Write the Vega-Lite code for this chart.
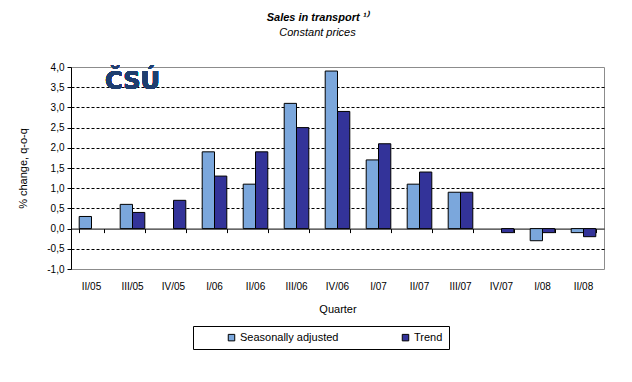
{
  "$schema": "https://vega.github.io/schema/vega-lite/v6.json",
  "width": 533,
  "height": 202,
  "autosize": {"type": "none"},
  "padding": {"left": 71, "top": 67, "right": 28, "bottom": 113},
  "background": "white",
  "config": {
    "view": {"stroke": "#8c8c8c", "strokeWidth": 1},
    "axisY": {
      "labelFlush": false,
      "labelOverlap": false,
      "domainColor": "black",
      "tickColor": "black",
      "tickSize": 4,
      "labelFont": "Liberation Sans",
      "labelFontSize": 10,
      "labelColor": "black",
      "labelPadding": 3,
      "titleFont": "Liberation Sans",
      "titleFontSize": 11,
      "titleFontWeight": "normal",
      "titleColor": "black",
      "titlePadding": 18,
      "gridColor": "black",
      "gridDash": [3, 2]
    }
  },
  "title": {
    "text": "Sales in transport ¹⁾",
    "subtitle": "Constant prices",
    "anchor": "middle",
    "frame": "group",
    "dx": -20,
    "offset": 24,
    "font": "Liberation Sans",
    "fontSize": 11,
    "fontStyle": "italic",
    "fontWeight": "bold",
    "color": "black",
    "subtitleFont": "Liberation Sans",
    "subtitleFontSize": 11,
    "subtitleFontStyle": "italic",
    "subtitleColor": "black",
    "subtitlePadding": 4
  },
  "data": {
    "values": [
      {"q": "II/05", "series": "Seasonally adjusted", "value": 0.3},
      {"q": "III/05", "series": "Seasonally adjusted", "value": 0.6},
      {"q": "III/05", "series": "Trend", "value": 0.4},
      {"q": "IV/05", "series": "Trend", "value": 0.7},
      {"q": "I/06", "series": "Seasonally adjusted", "value": 1.9},
      {"q": "I/06", "series": "Trend", "value": 1.3},
      {"q": "II/06", "series": "Seasonally adjusted", "value": 1.1},
      {"q": "II/06", "series": "Trend", "value": 1.9},
      {"q": "III/06", "series": "Seasonally adjusted", "value": 3.1},
      {"q": "III/06", "series": "Trend", "value": 2.5},
      {"q": "IV/06", "series": "Seasonally adjusted", "value": 3.9},
      {"q": "IV/06", "series": "Trend", "value": 2.9},
      {"q": "I/07", "series": "Seasonally adjusted", "value": 1.7},
      {"q": "I/07", "series": "Trend", "value": 2.1},
      {"q": "II/07", "series": "Seasonally adjusted", "value": 1.1},
      {"q": "II/07", "series": "Trend", "value": 1.4},
      {"q": "III/07", "series": "Seasonally adjusted", "value": 0.9},
      {"q": "III/07", "series": "Trend", "value": 0.9},
      {"q": "IV/07", "series": "Trend", "value": -0.1},
      {"q": "I/08", "series": "Seasonally adjusted", "value": -0.3},
      {"q": "I/08", "series": "Trend", "value": -0.1},
      {"q": "II/08", "series": "Seasonally adjusted", "value": -0.1},
      {"q": "II/08", "series": "Trend", "value": -0.2}
    ]
  },
  "layer": [
    {
      "mark": {"type": "bar", "stroke": "black", "strokeWidth": 1},
      "encoding": {
        "x": {
          "field": "q",
          "type": "nominal",
          "sort": null,
          "title": "Quarter",
          "scale": {
            "domain": ["II/05", "III/05", "IV/05", "I/06", "II/06", "III/06", "IV/06", "I/07", "II/07", "III/07", "IV/07", "I/08", "II/08"],
            "paddingInner": 0.4,
            "paddingOuter": 0.2
          },
          "axis": {
            "orient": "bottom",
            "ticks": false,
            "domain": false,
            "grid": false,
            "labelAngle": 0,
            "labelFont": "Liberation Sans",
            "labelFontSize": 10,
            "labelColor": "black",
            "labelPadding": 12,
            "titleFont": "Liberation Sans",
            "titleFontSize": 11,
            "titleFontWeight": "normal",
            "titleColor": "black",
            "titlePadding": 12
          }
        },
        "xOffset": {"field": "series", "type": "nominal", "scale": {"domain": ["Seasonally adjusted", "Trend"]}},
        "y": {
          "field": "value",
          "type": "quantitative",
          "title": "% change, q-o-q",
          "scale": {"domain": [-1, 4], "nice": false, "zero": false},
          "axis": {
            "values": [-1, -0.5, 0, 0.5, 1, 1.5, 2, 2.5, 3, 3.5, 4],
            "labelExpr": "replace(replace(format(datum.value, '.1f'), '.', ','), '−', '-')",
            "gridOpacity": {"condition": {"test": "datum.value == 4 || datum.value == -1 || datum.value == 0", "value": 0}, "value": 1}
          }
        },
        "color": {
          "field": "series",
          "type": "nominal",
          "scale": {"domain": ["Seasonally adjusted", "Trend"], "range": ["#7BA7DC", "#333399"]},
          "legend": {
            "title": null,
            "orient": "none",
            "legendX": 122,
            "legendY": 259,
            "direction": "horizontal",
            "strokeColor": "black",
            "padding": 6,
            "symbolType": "square",
            "symbolSize": 42,
            "symbolStrokeColor": "black",
            "symbolStrokeWidth": 1,
            "labelFont": "Liberation Sans",
            "labelFontSize": 11,
            "labelColor": "black",
            "labelOffset": 3,
            "columnPadding": 34,
            "symbolOffset": 27,
            "labelExpr": "datum.label == 'Trend' ? 'Trend\u00a0\u00a0\u00a0\u00a0\u00a0\u00a0\u00a0\u00a0\u00a0\u00a0\u00a0\u00a0\u00a0\u00a0\u00a0' : datum.label"
          }
        }
      }
    },
    {
      "mark": {"type": "point", "opacity": 0},
      "encoding": {
        "x": {
          "field": "q",
          "type": "nominal",
          "sort": null,
          "axis": {
            "orient": "bottom",
            "offset": -40.4,
            "labels": false,
            "ticks": true,
            "tickBand": "extent",
            "tickSize": 4,
            "tickColor": "black",
            "domainColor": "black",
            "title": null,
            "grid": false
          }
        },
        "y": {
          "datum": 0,
          "type": "quantitative",
          "title": "% change, q-o-q",
          "axis": {
            "values": [-1, -0.5, 0, 0.5, 1, 1.5, 2, 2.5, 3, 3.5, 4],
            "labelExpr": "replace(replace(format(datum.value, '.1f'), '.', ','), '−', '-')",
            "gridOpacity": {"condition": {"test": "datum.value == 4 || datum.value == -1 || datum.value == 0", "value": 0}, "value": 1}
          }
        }
      }
    },
    {
      "mark": {"type": "text", "font": "DejaVu Sans", "fontWeight": "bold", "fontSize": 24, "color": "#1e3e6f", "baseline": "middle", "align": "center"},
      "encoding": {
        "x": {"datum": "III/05", "type": "nominal", "axis": null},
        "y": {
          "datum": 3.62,
          "type": "quantitative",
          "title": "% change, q-o-q",
          "axis": {
            "values": [-1, -0.5, 0, 0.5, 1, 1.5, 2, 2.5, 3, 3.5, 4],
            "labelExpr": "replace(replace(format(datum.value, '.1f'), '.', ','), '−', '-')",
            "gridOpacity": {"condition": {"test": "datum.value == 4 || datum.value == -1 || datum.value == 0", "value": 0}, "value": 1}
          }
        },
        "text": {"value": "ČSÚ"}
      }
    }
  ],
  "resolve": {"axis": {"x": "independent"}}
}
